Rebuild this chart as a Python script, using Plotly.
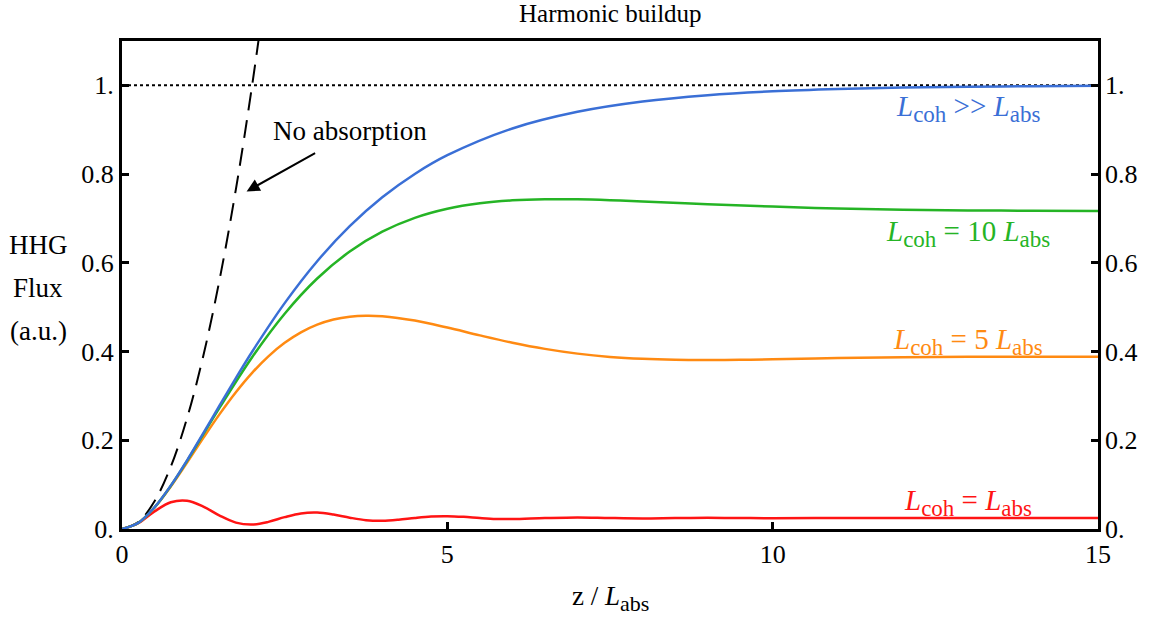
import plotly.graph_objects as go

# z / L_abs sample positions and normalised HHG flux for each coherence length
z_inf = [0, 0.25, 0.5, 0.75, 1, 1.25, 1.5, 1.75, 2, 2.5, 3, 3.5, 4, 4.5, 5, 6, 7, 8, 9, 10, 11, 12, 13, 14, 15]
flux_inf = [0, 0.0138, 0.0489, 0.0978, 0.1548, 0.2160, 0.2784, 0.3400, 0.3996, 0.5091, 0.6036, 0.6826,
            0.7477, 0.8003, 0.8425, 0.9029, 0.9405, 0.9637, 0.9779, 0.9866, 0.9918, 0.9950, 0.9970, 0.9982, 0.9989]

z_10 = [0, 0.25, 0.5, 0.75, 1, 1.5, 2, 2.5, 3, 3.5, 4, 4.5, 5, 5.5, 6, 6.5, 7, 7.5, 8, 9, 10, 11, 12, 13, 14, 15]
flux_10 = [0, 0.0138, 0.0488, 0.0973, 0.1536, 0.2734, 0.3872, 0.4853, 0.5646, 0.6255, 0.6701, 0.7013, 0.7218,
           0.7342, 0.7408, 0.7433, 0.7431, 0.7412, 0.7384, 0.7322, 0.7267, 0.7225, 0.7198, 0.7182, 0.7174, 0.7170]

z_5 = [0, 0.25, 0.5, 0.75, 1, 1.25, 1.5, 1.75, 2, 2.25, 2.5, 2.75, 3, 3.25, 3.5, 3.75, 4, 4.5, 5, 5.5, 6,
       6.5, 7, 7.5, 8, 8.5, 9, 9.5, 10, 11, 12, 13, 14, 15]
flux_5 = [0, 0.0138, 0.0485, 0.0960, 0.1499, 0.2053, 0.2589, 0.3083, 0.3520, 0.3892, 0.4196, 0.4432, 0.4605,
          0.4721, 0.4786, 0.4809, 0.4797, 0.4698, 0.4540, 0.4364, 0.4199, 0.4060, 0.3953, 0.3879, 0.3835,
          0.3813, 0.3808, 0.3814, 0.3825, 0.3852, 0.3871, 0.3881, 0.3883, 0.3882]

z_1 = [0, 0.25, 0.5, 0.75, 1, 1.25, 1.5, 1.75, 2, 2.25, 2.5, 2.75, 3, 3.25, 3.5, 3.75, 4, 4.25, 4.5, 4.75,
       5, 5.25, 5.5, 5.75, 6, 6.5, 7, 7.5, 8, 8.5, 9, 9.5, 10, 11, 12, 13, 14, 15]
flux_1 = [0, 0.0131, 0.0397, 0.0604, 0.0638, 0.0505, 0.0302, 0.0144, 0.0099, 0.0160, 0.0267, 0.0351, 0.0370,
          0.0325, 0.0255, 0.0199, 0.0185, 0.0209, 0.0250, 0.0282, 0.0289, 0.0274, 0.0248, 0.0228, 0.0223,
          0.0247, 0.0262, 0.0247, 0.0238, 0.0247, 0.0253, 0.0247, 0.0244, 0.0249, 0.0246, 0.0248, 0.0247, 0.0247]

# Growth without absorption
z_free = [0, 0.25, 0.5, 0.75, 1, 1.25, 1.5, 1.75, 2, 2.25]
flux_free = [0, 0.0156, 0.0625, 0.1406, 0.25, 0.3906, 0.5625, 0.7656, 1.0, 1.2656]

# Saturation level
z_sat = [0, 15]
flux_sat = [1, 1]

y_ticks = [0, 0.2, 0.4, 0.6, 0.8, 1.0]
y_tick_text = ["0.", "0.2", "0.4", "0.6", "0.8", "1."]
x_ticks = [0, 5, 10, 15]
x_tick_text = ["0", "5", "10", "15"]

FONT = "Liberation Serif"
BLUE = "#3a6fd6"
GREEN = "#25b425"
ORANGE = "#ff8a12"
RED = "#ff1414"


def sub(s, size=23):
    return f"<sub><span style='font-size:{size}px'>{s}</span></sub>"


def L(s):
    return "<i>L</i>" + sub(s)


fig = go.Figure()

fig.add_trace(go.Scatter(x=z_sat, y=flux_sat, mode="lines",
                         line=dict(color="black", width=2, dash="3px,3px")))
fig.add_trace(go.Scatter(x=z_free, y=flux_free, mode="lines",
                         line=dict(color="black", width=2, dash="18px,10px", shape="spline")))
fig.add_trace(go.Scatter(x=z_1, y=flux_1, mode="lines",
                         line=dict(color=RED, width=2.5, shape="spline")))
fig.add_trace(go.Scatter(x=z_5, y=flux_5, mode="lines",
                         line=dict(color=ORANGE, width=2.5, shape="spline")))
fig.add_trace(go.Scatter(x=z_10, y=flux_10, mode="lines",
                         line=dict(color=GREEN, width=2.5, shape="spline")))
fig.add_trace(go.Scatter(x=z_inf, y=flux_inf, mode="lines",
                         line=dict(color=BLUE, width=2.5, shape="spline")))
# carrier for the right-hand axis
fig.add_trace(go.Scatter(x=z_sat, y=flux_sat, mode="lines", yaxis="y2",
                         line=dict(color="rgba(0,0,0,0)", width=0), hoverinfo="skip"))

axis_font = dict(family=FONT, size=26, color="black")

fig.update_layout(
    width=1151, height=618,
    margin=dict(l=122, r=53, t=41, b=89),
    paper_bgcolor="white", plot_bgcolor="white",
    showlegend=False,
    font=dict(family=FONT, size=26, color="black"),
    xaxis=dict(range=[0, 15], tickvals=x_ticks, ticktext=x_tick_text,
               showgrid=False, zeroline=False, showline=True, linecolor="black", linewidth=3,
               mirror=True, ticks="inside", ticklen=7, tickwidth=2.5, tickcolor="black",
               tickfont=axis_font),
    yaxis=dict(range=[0, 1.1], tickvals=y_ticks, ticktext=y_tick_text,
               showgrid=False, zeroline=False, showline=True, linecolor="black", linewidth=3,
               mirror=True, ticks="inside", ticklen=7, tickwidth=2.5, tickcolor="black",
               tickfont=axis_font),
    yaxis2=dict(range=[0, 1.1], tickvals=y_ticks, ticktext=y_tick_text, overlaying="y", side="right",
                showgrid=False, zeroline=False, showline=False, ticks="inside", ticklen=7,
                tickwidth=2.5, tickcolor="black", tickfont=axis_font, ticklabelstandoff=6),
)

annotations = [
    dict(text="Harmonic buildup", xref="paper", yref="paper", x=0.5, y=1, xanchor="center",
         yanchor="middle", yshift=28, showarrow=False, font=dict(size=25)),
    dict(text="z / <i>L</i>" + sub("abs", 22), xref="paper", yref="paper", x=0.5, y=0,
         xanchor="center", yanchor="middle", yshift=-69, showarrow=False, font=dict(size=27)),
    dict(text="HHG", xref="paper", yref="paper", x=0, y=0.5, xanchor="center",
         yanchor="middle", xshift=-84, yshift=40, showarrow=False, font=dict(size=27)),
    dict(text="Flux", xref="paper", yref="paper", x=0, y=0.5, xanchor="center",
         yanchor="middle", xshift=-84, yshift=-3, showarrow=False, font=dict(size=27)),
    dict(text="(a.u.)", xref="paper", yref="paper", x=0, y=0.5, xanchor="center",
         yanchor="middle", xshift=-84, yshift=-46, showarrow=False, font=dict(size=27)),
    dict(text=L("coh") + " >> " + L("abs"), x=13, y=0.941, xref="x", yref="y", yshift=3,
         showarrow=False, font=dict(size=29, color=BLUE)),
    dict(text=L("coh") + " = 10 " + L("abs"), x=13, y=0.659, xref="x", yref="y", yshift=3,
         showarrow=False, font=dict(size=29, color=GREEN)),
    dict(text=L("coh") + " = 5 " + L("abs"), x=13, y=0.415, xref="x", yref="y", yshift=3,
         showarrow=False, font=dict(size=29, color=ORANGE)),
    dict(text=L("coh") + " = " + L("abs"), x=13, y=0.054, xref="x", yref="y", yshift=3,
         showarrow=False, font=dict(size=29, color=RED)),
    dict(text="No absorption", x=3.5, y=0.897, xref="x", yref="y", showarrow=False,
         font=dict(size=27)),
    dict(text="", x=1.915, y=0.761, xref="x", yref="y", ax=70, ay=-39, axref="pixel", ayref="pixel",
         showarrow=True, arrowhead=2, arrowsize=1.3, arrowwidth=2, arrowcolor="black"),
]
fig.update_layout(annotations=annotations)

fig.write_html("out.html")
